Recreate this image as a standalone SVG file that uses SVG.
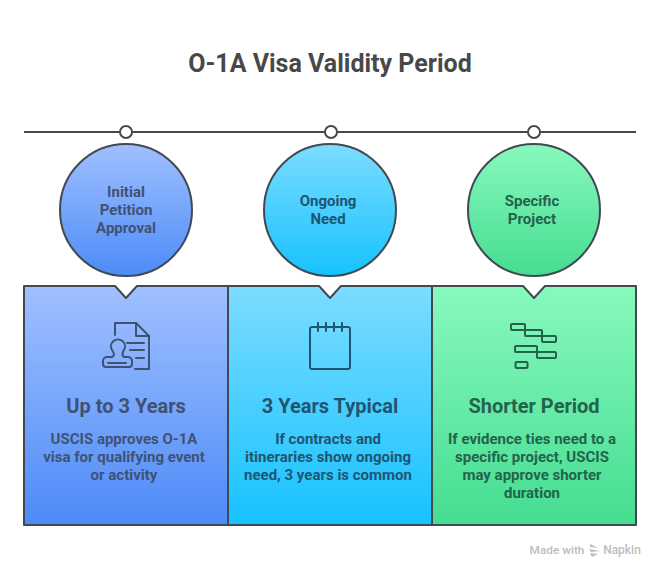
<svg xmlns="http://www.w3.org/2000/svg" width="660" height="574" viewBox="0 0 660 574">
<style>
text{font-family:Roboto,"Liberation Sans",sans-serif;text-anchor:middle}
.t{font-size:25px;font-weight:700;fill:#484848}
.c{font-size:15px;font-weight:700}
.h{font-size:20px;font-weight:700}
.b{font-size:15px;font-weight:700}
.o{fill:none;stroke-width:2;stroke-linecap:round;stroke-linejoin:round}
.s{stroke:#414a52;stroke-width:2;stroke-linejoin:round}
.bl{fill:#3f5273}.cy{fill:#1f5570}.gr{fill:#23634b}
</style>
<defs>
<linearGradient id="g1" x1="0" y1="0" x2="0" y2="1"><stop offset="0" stop-color="#a0c0ff"/><stop offset="1" stop-color="#4d8bf8"/></linearGradient>
<linearGradient id="g2" x1="0" y1="0" x2="0" y2="1"><stop offset="0" stop-color="#7cdcff"/><stop offset="1" stop-color="#16c2ff"/></linearGradient>
<linearGradient id="g3" x1="0" y1="0" x2="0" y2="1"><stop offset="0" stop-color="#88f9bd"/><stop offset="1" stop-color="#45dd92"/></linearGradient>
</defs>
<text class="t" x="330" y="72">O-1A Visa Validity Period</text>
<g id="connectors">
<line x1="24" y1="132" x2="636" y2="132" stroke="#484848" stroke-width="2"/>
<circle cx="126" cy="132" r="6" fill="#fff" stroke="#484848" stroke-width="2"/>
<circle cx="331" cy="132" r="6" fill="#fff" stroke="#484848" stroke-width="2"/>
<circle cx="534" cy="132" r="6" fill="#fff" stroke="#484848" stroke-width="2"/>
</g>
<g id="node-initial">
<circle class="s" cx="126" cy="210" r="66" fill="url(#g1)"/>
<text class="c bl" x="126" y="197">Initial</text>
<text class="c bl" x="126" y="215">Petition</text>
<text class="c bl" x="126" y="233">Approval</text>
</g>
<g id="node-ongoing">
<circle class="s" cx="330" cy="210" r="66" fill="url(#g2)"/>
<text class="c cy" x="328" y="206">Ongoing</text>
<text class="c cy" x="328" y="224">Need</text>
</g>
<g id="node-specific">
<circle class="s" cx="534" cy="210" r="66" fill="url(#g3)"/>
<text class="c gr" x="532" y="206">Specific</text>
<text class="c gr" x="532" y="224">Project</text>
</g>
<g id="card-1">
<path class="s" d="M24 286H115L126 298L137 286H228V525H24Z" fill="url(#g1)"/>
<g class="o" stroke="#3f5273">
<path d="M115 335V323H136L149 336V369H135"/><path d="M136 323V336H149"/>
<path d="M127 343H144M130 350H144M136 358H144"/>
<path d="M113.500 356c1-2 0-4-1.500-6a7 7 0 1 1 12 0c-1.500 2-2 4-1 6l1 1h4a4 4 0 0 1 4 4v3a3 3 0 0 1-3 3H106a3 3 0 0 1-3-3v-3a4 4 0 0 1 4-4h5Z"/>
<path d="M108 363H126"/>
</g>
<text class="h" x="126" y="413" fill="#3f5273">Up to 3 Years</text>
<text class="b" x="124" y="444" fill="#3f5273">USCIS approves O-1A</text>
<text class="b" x="124" y="462" fill="#3f5273">visa for qualifying event</text>
<text class="b" x="124" y="480" fill="#3f5273">or activity</text>
</g>
<g id="card-2">
<path class="s" d="M228 286H319L330 298L341 286H432V525H228Z" fill="url(#g2)"/>
<g class="o" stroke="#1f5570">
<rect x="310" y="327" width="40" height="42" rx="2"/>
<path d="M318 323V331M326 323V331M334 323V331M342 323V331"/>
</g>
<text class="h" x="330" y="413" fill="#1f5570">3 Years Typical</text>
<text class="b" x="328" y="444" fill="#1f5570">If contracts and</text>
<text class="b" x="328" y="462" fill="#1f5570">itineraries show ongoing</text>
<text class="b" x="328" y="480" fill="#1f5570">need, 3 years is common</text>
</g>
<g id="card-3">
<path class="s" d="M432 286H523L534 298L545 286H636V525H432Z" fill="url(#g3)"/>
<g class="o" stroke="#23634b">
<rect x="511" y="324" width="14" height="6" rx="1"/><rect x="525" y="330" width="17" height="6" rx="1"/><rect x="542" y="336" width="14" height="6" rx="1"/>
<rect x="515" y="346" width="22" height="6" rx="1"/><rect x="537" y="352" width="19" height="6" rx="1"/><rect x="515.500" y="362" width="12" height="6" rx="1"/>
</g>
<text class="h" x="534" y="413" fill="#23634b">Shorter Period</text>
<text class="b" x="532" y="444" fill="#23634b">If evidence ties need to a</text>
<text class="b" x="532" y="462" fill="#23634b">specific project, USCIS</text>
<text class="b" x="532" y="480" fill="#23634b">may approve shorter</text>
<text class="b" x="532" y="498" fill="#23634b">duration</text>
</g>
<g id="watermark">
<text x="557" y="553.500" font-size="11.800" fill="#bdbdbd" style="font-weight:500">Made with</text>
<path d="M590 544L598 548L590 547ZM589 549L600 551L591 552ZM590 553L598 554L592 557Z" fill="#bdbdbd"/>
<text x="622" y="553.500" font-size="12" fill="#bdbdbd" style="font-weight:500">Napkin</text>
</g>
</svg>
